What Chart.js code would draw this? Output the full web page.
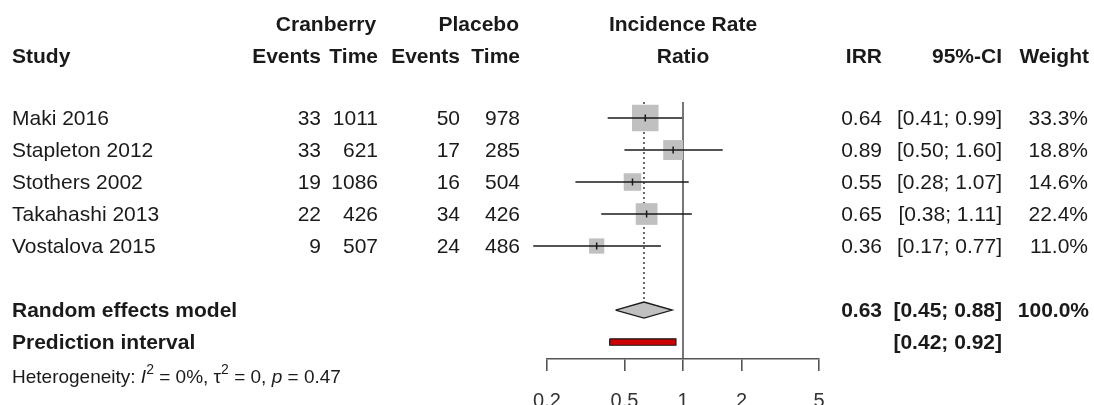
<!DOCTYPE html>
<html>
<head>
<meta charset="utf-8">
<script src="https://cdn.jsdelivr.net/npm/chart.js@4"></script>
<style>
  body { margin: 0; background: #fff; }
  canvas { display: block; }
</style>
</head>
<body>
<canvas id="forest" width="1094" height="405"></canvas>
<script>
// study data
const studies = ['Maki 2016', 'Stapleton 2012', 'Stothers 2002', 'Takahashi 2013', 'Vostalova 2015'];
const cranEvents = [33, 33, 19, 22, 9];
const cranTime = [1011, 621, 1086, 426, 507];
const placEvents = [50, 17, 16, 34, 24];
const placTime = [978, 285, 504, 426, 486];
const irr = [0.64, 0.89, 0.55, 0.65, 0.36];
const ciLow = [0.41, 0.50, 0.28, 0.38, 0.17];
const ciHigh = [0.99, 1.60, 1.07, 1.11, 0.77];
const weights = [33.3, 18.8, 14.6, 22.4, 11.0];

const pooledIRR = 0.63;
const pooledCI = [0.45, 0.88];
const pooledWeight = 100.0;
const predInterval = [0.42, 0.92];
const xTicks = [0.2, 0.5, 1, 2, 5];
const nullValue = 1;

const RE_ROW = 6, PI_ROW = 7;
const FONT = '"Liberation Sans", Arial, sans-serif';
const INK = '#1a1a1a';

const fmt2 = v => v.toFixed(2);
const ciText = (lo, hi) => '[' + fmt2(lo) + '; ' + fmt2(hi) + ']';

// text columns, drawn after the chart
const tablePlugin = {
    id: 'forestTable',
    afterDraw(chart) {
        const ctx = chart.ctx;
        const y = chart.scales.y;
        const txt = (s, x, yy, align, bold) => {
            ctx.font = (bold ? 'bold ' : '') + '21px ' + FONT;
            ctx.textAlign = align;
            ctx.fillText(s, x, yy + 1);
        };
        ctx.save();
        ctx.fillStyle = INK;
        ctx.textBaseline = 'middle';

        // headers
        txt('Cranberry', 326, 24, 'center', true);
        txt('Placebo', 519, 24, 'right', true);
        txt('Study', 12, 56, 'left', true);
        txt('Events', 321, 56, 'right', true);
        txt('Time', 378, 56, 'right', true);
        txt('Events', 460, 56, 'right', true);
        txt('Time', 520, 56, 'right', true);
        txt('Incidence Rate', 683, 24, 'center', true);
        txt('Ratio', 683, 56, 'center', true);
        txt('IRR', 882, 56, 'right', true);
        txt('95%-CI', 1002, 56, 'right', true);
        txt('Weight', 1089, 56, 'right', true);

        studies.forEach((s, i) => {
            const yy = y.getPixelForValue(i);
            txt(s, 12, yy, 'left');
            txt(String(cranEvents[i]), 321, yy, 'right');
            txt(String(cranTime[i]), 378, yy, 'right');
            txt(String(placEvents[i]), 460, yy, 'right');
            txt(String(placTime[i]), 520, yy, 'right');
            txt(fmt2(irr[i]), 882, yy, 'right');
            txt(ciText(ciLow[i], ciHigh[i]), 1002, yy, 'right');
            txt(weights[i].toFixed(1) + '%', 1088, yy, 'right');
        });

        const yRE = y.getPixelForValue(RE_ROW);
        txt('Random effects model', 12, yRE, 'left', true);
        txt(fmt2(pooledIRR), 882, yRE, 'right', true);
        txt(ciText(pooledCI[0], pooledCI[1]), 1002, yRE, 'right', true);
        txt(pooledWeight.toFixed(1) + '%', 1089, yRE, 'right', true);

        const yPI = y.getPixelForValue(PI_ROW);
        txt('Prediction interval', 12, yPI, 'left', true);
        txt(ciText(predInterval[0], predInterval[1]), 1002, yPI, 'right', true);

        // heterogeneity line with italics and superscripts
        let x = 12;
        const yh = 378;
        const piece = (s, style, dy) => {
            ctx.font = style + FONT;
            ctx.textAlign = 'left';
            ctx.fillText(s, x, yh + (dy || 0));
            x += ctx.measureText(s).width;
        };
        piece('Heterogeneity: ', '19px ');
        piece('I', 'italic 19px ');
        piece('2', '14px ', -8);
        piece(' = 0%, ', '19px ');
        piece('\u03c4', '19px ');
        piece('2', '14px ', -8);
        piece(' = 0, ', '19px ');
        piece('p', 'italic 19px ');
        piece(' = 0.47', '19px ');
        ctx.restore();
    }
};

const ciLines = studies.map((s, i) => ({
    type: 'line',
    data: [{ x: ciLow[i], y: i }, { x: ciHigh[i], y: i }],
    borderColor: INK,
    borderWidth: 1.6,
    pointRadius: 0,
    clip: false,
    order: 3
}));

new Chart(document.getElementById('forest'), {
    type: 'scatter',
    data: {
        datasets: [
            {   // line of no effect
                type: 'line',
                data: [{ x: nullValue, y: -0.5 }, { x: nullValue, y: 7.53 }],
                borderColor: '#555',
                borderWidth: 1.6,
                pointRadius: 0,
                order: 9
            },
            {   // pooled estimate, dotted
                type: 'line',
                data: [{ x: pooledIRR, y: -0.5 }, { x: pooledIRR, y: RE_ROW - 0.25 }],
                borderColor: INK,
                borderWidth: 1.3,
                borderDash: [2, 3],
                pointRadius: 0,
                order: 8
            },
            {   // weight squares
                data: irr.map((v, i) => ({ x: v, y: i })),
                pointStyle: 'rect',
                pointRadius: weights.map(w => 3.25 * Math.sqrt(w)),
                backgroundColor: '#c0c0c0',
                borderWidth: 0,
                clip: false,
                order: 5
            },
            ...ciLines,
            {   // point estimate marks
                data: irr.map((v, i) => ({ x: v, y: i })),
                pointStyle: 'line',
                rotation: 90,
                pointRadius: 3.5,
                borderColor: INK,
                borderWidth: 1.5,
                order: 1
            },
            {   // random effects diamond
                type: 'line',
                data: [
                    { x: pooledCI[0], y: RE_ROW },
                    { x: pooledIRR, y: RE_ROW - 0.25 },
                    { x: pooledCI[1], y: RE_ROW },
                    { x: pooledIRR, y: RE_ROW + 0.25 },
                    { x: pooledCI[0], y: RE_ROW }
                ],
                fill: 'shape',
                backgroundColor: '#c0c0c0',
                borderColor: INK,
                borderWidth: 1.3,
                pointRadius: 0,
                order: 2
            },
            {   // prediction interval bar
                type: 'line',
                data: [
                    { x: predInterval[0], y: PI_ROW - 0.1 },
                    { x: predInterval[1], y: PI_ROW - 0.1 },
                    { x: predInterval[1], y: PI_ROW + 0.1 },
                    { x: predInterval[0], y: PI_ROW + 0.1 },
                    { x: predInterval[0], y: PI_ROW - 0.1 }
                ],
                fill: 'shape',
                backgroundColor: '#cc0000',
                borderColor: INK,
                borderWidth: 1.2,
                pointRadius: 0,
                order: 2
            }
        ]
    },
    options: {
        responsive: false,
        animation: false,
        layout: { padding: { left: 547, right: 275, top: 102, bottom: 0 } },
        plugins: { legend: { display: false }, tooltip: { enabled: false } },
        scales: {
            x: {
                type: 'logarithmic',
                min: xTicks[0],
                max: xTicks[xTicks.length - 1],
                afterBuildTicks: s => { s.ticks = xTicks.map(v => ({ value: v })); },
                afterFit: s => { s.height = 46; },
                grid: {
                    drawOnChartArea: false,
                    drawTicks: true,
                    tickLength: 12,
                    color: '#555',
                    lineWidth: 1.6
                },
                border: { display: true, color: '#555', width: 1.6 },
                ticks: {
                    padding: 18,
                    maxRotation: 0,
                    autoSkip: false,
                    color: '#333',
                    font: { family: FONT, size: 20 },
                    callback: v => String(v)
                }
            },
            y: {
                type: 'linear',
                min: -0.5,
                max: 7.53,
                reverse: true,
                display: false
            }
        }
    },
    plugins: [tablePlugin]
});
</script>
</body>
</html>
